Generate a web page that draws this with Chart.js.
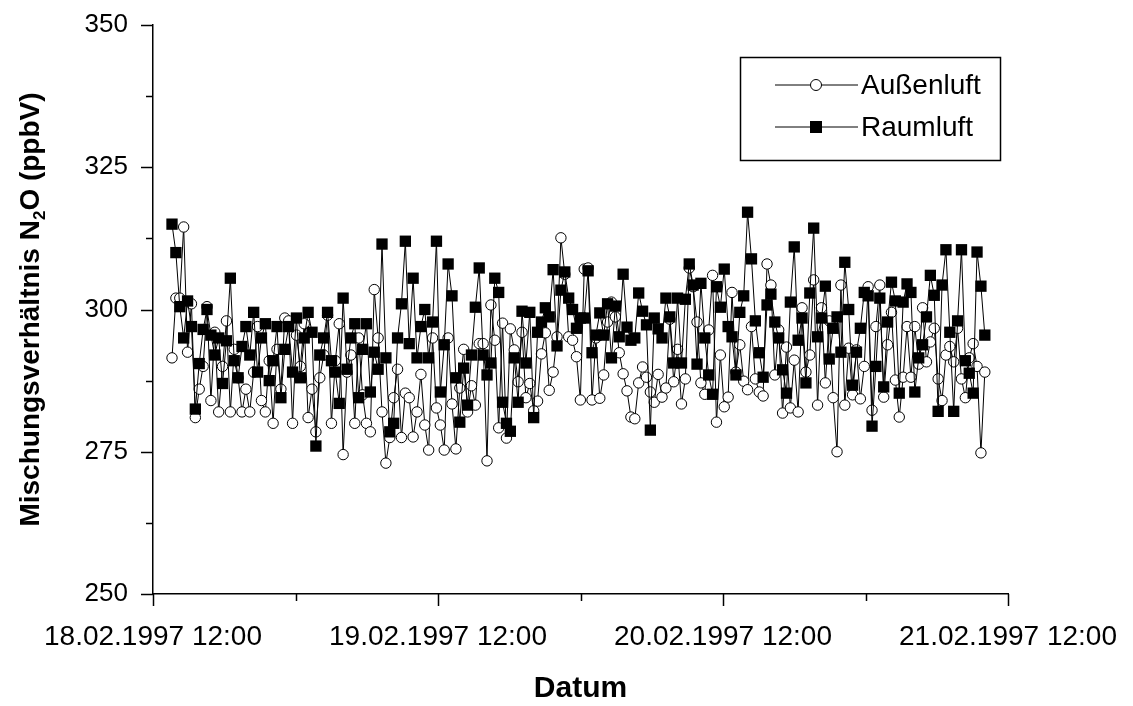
<!DOCTYPE html>
<html>
<head>
<meta charset="utf-8">
<script src="https://cdn.jsdelivr.net/npm/chart.js@4.4.1/dist/chart.umd.min.js"></script>
<style>
  html, body { margin: 0; padding: 0; background: #fff; }
  #wrap { width: 1133px; height: 706px; }
</style>
</head>
<body>
<div id="wrap"><canvas id="chart" width="1133" height="706"></canvas></div>
<script>
// ---------- data (hours after 18.02.1997 12:00) ----------
const startHour = 1.6;     // first sample
const stepHour = 0.3275;   // sampling interval

const aussenluft = [
  291.5, 302, 302, 314.5, 292.5, 301, 281, 286, 290, 300.5,
  284, 296, 282, 290, 298, 282, 293, 288, 282, 286,
  282, 289, 297, 284, 282, 291, 280, 293, 286, 298.5,
  298, 280, 295.5, 290, 297.5, 281, 286, 278.5, 288, 292,
  299, 280, 291, 297.5, 274.5, 289, 292, 280, 295, 285,
  280, 278.5, 303.5, 295, 282, 273, 277.5, 284.5, 289.5, 277.5,
  285.3, 284.5, 277.6, 282, 288.6, 279.7, 275.3, 295, 282.7, 279.7,
  275.3, 295, 283.4, 275.5, 286.2, 293, 282, 286.6, 283.2, 294,
  294, 273.4, 300.8, 294.6, 279.2, 297.6, 277.4, 296.6, 292.9, 287.3,
  296, 284.5, 287, 282.2, 283.9, 292.2, 295.9, 285.8, 289, 295.2,
  312.6, 306.2, 295.2, 294.6, 291.7, 284.1, 307.1, 307.3, 284.1, 295,
  284.4, 288.5, 297.8, 301.3, 298.7, 292.4, 288.7, 285.7, 281.1, 280.8,
  287.1, 289.9, 288.1, 285.5, 283.7, 288.6, 284.6, 286.2, 298.3, 287.3,
  293, 283.4, 287.8, 307.3, 304, 297.8, 287.1, 285.1, 296.4, 306,
  280.2, 292, 282.9, 284.6, 303, 289, 293.8, 287.4, 285.9, 297,
  287.8, 285.5, 284.8, 308, 304.3, 288.5, 296.4, 281.8, 293.4, 282.7,
  291.1, 282, 300.3, 289, 292, 305.2, 283.2, 300.3, 287.1, 298,
  284.5, 275, 304.3, 283.2, 293.2, 285, 292.9, 284.3, 290, 304,
  282.3, 297, 304.3, 284.6, 293.8, 299.5, 287.6, 281.1, 288.1, 297,
  288.1, 297, 290.4, 300.3, 290.8, 294.3, 296.7, 287.8, 284, 292,
  293.5, 290.8, 296.7, 287.8, 284.5, 291.5, 294, 290, 274.8, 289
];

const raumluft = [
  315, 310, 300.5, 295, 301.5, 297, 282.5, 290.5, 296.5, 300,
  295.5, 292, 295, 287, 294.5, 305.5, 291, 288, 293.5, 297,
  292, 299.5, 289, 295, 297.5, 287.5, 291, 297, 284.5, 293,
  297, 289, 298.5, 288, 295, 299.5, 296, 276, 292, 295,
  299.5, 291, 289, 283.5, 302, 289.5, 295, 297.5, 284.5, 293,
  297.5, 285.5, 292.5, 289.5, 311.5, 291.5, 278.5, 280, 295, 301,
  312, 294, 305.5, 291.5, 297, 300, 291.5, 297.8, 312, 285.5,
  293.8, 308, 302.4, 288, 280.2, 289.7, 283.2, 292, 300.4, 307.3,
  292, 288.5, 290.6, 305.5, 303, 283.7, 280, 278.6, 291.5, 283.7,
  299.7, 290.6, 299.5, 281, 296, 297.8, 300.3, 298.7, 307, 293.6,
  303.4, 306.6, 302, 300, 296.7, 298.5, 298.5, 306.8, 292.4, 295.5,
  299.4, 295.5, 301, 291.5, 300.6, 295.2, 306.2, 296.9, 294.6, 295,
  302.9, 299.7, 297.3, 278.8, 298.5, 296.6, 295, 302, 298.7, 290.6,
  302, 290.6, 301.8, 308, 304.3, 290.4, 304.6, 295, 288.5, 285.1,
  304, 300.4, 307.1, 297, 295.2, 288.5, 299.5, 302.4, 317.1, 308.9,
  298, 292.4, 288.1, 300.8, 302.7, 297.8, 295, 289.4, 285.3, 301.3,
  311, 294.6, 298.5, 287.1, 302.9, 314.3, 295.2, 298.5, 304.1, 291.3,
  296.7, 298.7, 292.5, 308.3, 300, 286.7, 292.5, 296.7, 303, 302.4,
  279.5, 290, 302, 286.4, 297.8, 304.8, 301.5, 285.3, 301.3, 304.5,
  303, 285.5, 291.5, 293.8, 298.7, 306, 302.5, 282.1, 304.3, 310.5,
  296, 282.1, 298, 310.5, 291, 288.8, 285.3, 310.1, 304.1, 295.5
];

const seriesNames = ['Außenluft', 'Raumluft'];
const xTickHours = [0, 12, 24, 36, 48, 60, 72];
const xTickLabels = ['18.02.1997 12:00', '', '19.02.1997 12:00', '', '20.02.1997 12:00', '', '21.02.1997 12:00'];
const yTicks = [250, 262.5, 275, 287.5, 300, 312.5, 325, 337.5, 350];
const xTitle = 'Datum';

// ---------- helpers ----------
const FONT = "'Liberation Sans', Arial, sans-serif";
const YTICK_SIZE = 26;
const XTICK_SIZE = 28;
const TITLE_SIZE = 28;
const LEGEND_SIZE = 28;
const toPoints = arr => arr.map((v, i) => ({ x: startHour + i * stepHour, y: v }));
const noOverflow = s => { s.paddingTop = 0; s.paddingBottom = 0; s.paddingLeft = 0; s.paddingRight = 0; };

// tick marks, axis titles and the boxed legend
const decorPlugin = {
  id: 'decor',
  afterDraw(chart) {
    const ctx = chart.ctx;
    const xs = chart.scales.x, ys = chart.scales.y;
    const area = chart.chartArea;
    ctx.save();
    ctx.strokeStyle = '#000';
    ctx.lineWidth = 1.5;

    // y ticks (outside)
    yTicks.forEach(v => {
      const y = Math.round(ys.getPixelForValue(v)) + 0.5;
      const len = v % 25 === 0 ? 12 : 7;
      ctx.beginPath();
      ctx.moveTo(area.left, y);
      ctx.lineTo(area.left - len, y);
      ctx.stroke();
    });
    // x ticks (outside)
    xTickHours.forEach((h, i) => {
      const x = Math.round(xs.getPixelForValue(h)) + 0.5;
      const len = xTickLabels[i] ? 12 : 7;
      ctx.beginPath();
      ctx.moveTo(x, area.bottom);
      ctx.lineTo(x, area.bottom + len);
      ctx.stroke();
    });

    // x title
    ctx.fillStyle = '#000';
    ctx.font = 'bold 30px ' + FONT;
    ctx.textAlign = 'center';
    ctx.textBaseline = 'middle';
    ctx.fillText(xTitle, (area.left + area.right) / 2, 689);

    // y title with subscript
    const partA = 'Mischungsverhältnis N', partSub = '2', partB = 'O (ppbV)';
    ctx.font = 'bold ' + TITLE_SIZE + 'px ' + FONT;
    const wA = ctx.measureText(partA).width, wB = ctx.measureText(partB).width;
    ctx.font = 'bold 17px ' + FONT;
    const wS = ctx.measureText(partSub).width;
    const total = wA + wS + wB;
    ctx.translate(39, (area.top + area.bottom) / 2);
    ctx.rotate(-Math.PI / 2);
    ctx.textAlign = 'left';
    ctx.textBaseline = 'alphabetic';
    let cx = -total / 2;
    ctx.font = 'bold ' + TITLE_SIZE + 'px ' + FONT;
    ctx.fillText(partA, cx, 0);
    cx += wA;
    ctx.font = 'bold 17px ' + FONT;
    ctx.fillText(partSub, cx, 6);
    cx += wS;
    ctx.font = 'bold ' + TITLE_SIZE + 'px ' + FONT;
    ctx.fillText(partB, cx, 0);
    ctx.setTransform(1, 0, 0, 1, 0, 0);

    // legend
    const bx = 740, by = 57, bw = 260, bh = 103;
    ctx.lineWidth = 1.5;
    ctx.strokeRect(bx + 0.5, by + 0.5, bw, bh);
    const rows = [by + 28, by + 70];
    ctx.font = LEGEND_SIZE + 'px ' + FONT;
    ctx.textAlign = 'left';
    ctx.textBaseline = 'middle';
    rows.forEach((y, i) => {
      ctx.lineWidth = 1;
      ctx.beginPath();
      ctx.moveTo(775, y);
      ctx.lineTo(858, y);
      ctx.stroke();
      if (i === 0) {
        ctx.beginPath();
        ctx.arc(816, y, 5.5, 0, Math.PI * 2);
        ctx.fillStyle = '#fff';
        ctx.fill();
        ctx.stroke();
      } else {
        ctx.fillStyle = '#000';
        ctx.fillRect(810, y - 6, 12, 12);
      }
      ctx.fillStyle = '#000';
      ctx.fillText(seriesNames[i], 861, y + 1);
    });
    ctx.restore();
  }
};

// ---------- chart ----------
new Chart(document.getElementById('chart'), {
  type: 'line',
  data: {
    datasets: [
      {
        label: seriesNames[0],
        data: toPoints(aussenluft),
        borderColor: '#000',
        borderWidth: 1,
        pointStyle: 'circle',
        pointRadius: 5.2,
        pointBorderWidth: 1,
        pointBackgroundColor: '#fff',
        pointBorderColor: '#000',
        tension: 0,
        order: 1
      },
      {
        label: seriesNames[1],
        data: toPoints(raumluft),
        borderColor: '#000',
        borderWidth: 1,
        pointStyle: 'rect',
        pointRadius: 8,
        pointBorderWidth: 0,
        pointBackgroundColor: '#000',
        pointBorderColor: '#000',
        tension: 0,
        order: 0
      }
    ]
  },
  options: {
    responsive: false,
    animation: false,
    devicePixelRatio: 1,
    layout: { padding: { left: 0, right: 125, top: 25, bottom: 0 } },
    plugins: { legend: { display: false }, tooltip: { enabled: false } },
    scales: {
      x: {
        type: 'linear',
        min: 0,
        max: 72,
        afterBuildTicks: s => { s.ticks = xTickHours.map(v => ({ value: v })); },
        afterFit: s => { s.height = 112; noOverflow(s); },
        grid: { display: false, drawTicks: false },
        border: { display: true, color: '#000', width: 1.5 },
        ticks: {
          autoSkip: false,
          maxRotation: 0,
          padding: 26,
          color: '#000',
          font: { family: FONT, size: XTICK_SIZE },
          callback: (v, i) => xTickLabels[xTickHours.indexOf(v)] || ''
        }
      },
      y: {
        min: 250,
        max: 350,
        afterBuildTicks: s => { s.ticks = yTicks.map(v => ({ value: v })); },
        afterFit: s => { s.width = 153; noOverflow(s); },
        grid: { display: false, drawTicks: false },
        border: { display: true, color: '#000', width: 1.5 },
        ticks: {
          padding: 25,
          color: '#000',
          font: { family: FONT, size: YTICK_SIZE },
          callback: v => (v % 25 === 0 ? String(v) : '')
        }
      }
    }
  },
  plugins: [decorPlugin]
});
</script>
</body>
</html>
